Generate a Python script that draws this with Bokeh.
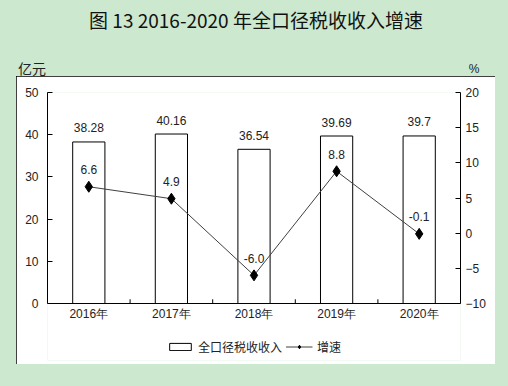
from bokeh.plotting import figure
from bokeh.layouts import column, row
from bokeh.models import (Range1d, LinearAxis, FixedTicker, Div, Legend, LegendItem, ColumnDataSource)
from bokeh.embed import file_html
from bokeh.resources import INLINE

years = ["2016年", "2017年", "2018年", "2019年", "2020年"]
revenue = [38.28, 40.16, 36.54, 39.69, 39.7]
revenue_labels = ["38.28", "40.16", "36.54", "39.69", "39.7"]
growth = [6.6, 4.9, -6.0, 8.8, -0.1]
growth_labels = ["6.6", "4.9", "-6.0", "8.8", "-0.1"]
left_ticks = [0, 10, 20, 30, 40, 50]
right_ticks = [-10, -5, 0, 5, 10, 15, 20]
title_text = "图 13 2016-2020 年全口径税收收入增速"
left_unit = "亿元"
right_unit = "%"

GREEN = "#cce8cf"
FONT = "Liberation Sans"
CJK = "Noto Sans CJK SC"
TXT = "#222222"

# space below zero inside the frame (for year labels and legend): 57px of 211px
below = 57 / 211
L0, L1 = 0, 50
R0, R1 = -10, 20

xs = [i + 0.5 for i in range(len(years))]
src = ColumnDataSource(dict(x=xs, rev=revenue, g=growth, rl=revenue_labels, gl=growth_labels))

p = figure(width=479, height=288, output_backend="svg", toolbar_location=None,
           x_range=Range1d(0, len(years)),
           y_range=Range1d(L0 - below * (L1 - L0), L1),
           min_border_left=31, min_border_right=35, min_border_top=16, min_border_bottom=4,
           styles={"outline": "1px solid black", "outline-offset": "-1px"})
p.extra_y_ranges = {"pct": Range1d(R0 - below * (R1 - R0), R1)}
p.background_fill_color = "white"
p.border_fill_color = "white"
p.outline_line_color = None
p.xgrid.visible = False
p.ygrid.visible = False

bars = p.vbar(x="x", top="rev", width=0.39, source=src, fill_color="white", line_color="black", line_width=1)
line = p.line(x="x", y="g", source=src, y_range_name="pct", line_color="#404040", line_width=1)
pts = p.scatter(x="x", y="g", source=src, y_range_name="pct", marker="diamond", size=11,
                fill_color="black", line_color="black")

p.text(x="x", y="rev", text="rl", source=src, text_align="center", text_baseline="middle",
       y_offset=-14, text_font_size="12px", text_color=TXT, text_font={"value": FONT})
p.text(x="x", y="g", text="gl", source=src, y_range_name="pct", text_align="center",
       text_baseline="middle", y_offset=-17, text_font_size="12px", text_color=TXT,
       text_font={"value": FONT})

# category boundary ticks on the x axis
bx = list(range(1, len(years)))
p.segment(x0=bx, x1=bx, y0=[0] * len(bx), y1=[1.0] * len(bx), line_color="black", line_width=1)

xa = p.xaxis[0]
xa.fixed_location = 0
xa.ticker = FixedTicker(ticks=xs)
xa.major_label_overrides = {x: y for x, y in zip(xs, years)}
xa.major_tick_line_color = None
xa.major_tick_in = 0
xa.major_tick_out = 0
xa.minor_tick_line_color = None
xa.axis_line_color = "black"
xa.major_label_text_font = FONT
xa.major_label_text_font_size = "12px"
xa.major_label_text_color = TXT
xa.major_label_standoff = 3

ya = p.yaxis[0]
ya.ticker = FixedTicker(ticks=left_ticks)
ya.bounds = (L0, L1)
ya.major_tick_in = 5
ya.major_tick_out = 0
ya.minor_tick_line_color = None
ya.axis_line_color = "black"
ya.major_label_text_font = FONT
ya.major_label_text_font_size = "12px"
ya.major_label_text_color = TXT
ya.major_label_standoff = 9

ra = LinearAxis(y_range_name="pct", ticker=FixedTicker(ticks=right_ticks), bounds=(R0, R1))
ra.major_tick_in = 5
ra.major_tick_out = 0
ra.minor_tick_line_color = None
ra.axis_line_color = "black"
ra.major_label_text_font = FONT
ra.major_label_text_font_size = "12px"
ra.major_label_text_color = TXT
ra.major_label_standoff = 5
p.add_layout(ra, "right")

legend = Legend(items=[LegendItem(label="全口径税收收入", renderers=[bars]),
                       LegendItem(label="增速", renderers=[line, pts])],
                orientation="horizontal", location="bottom_center", background_fill_alpha=0,
                border_line_color=None, label_text_font=CJK, label_text_font_size="12px",
                label_text_color=TXT, glyph_width=27, glyph_height=9, spacing=3,
                label_standoff=5, margin=5, padding=4)
p.add_layout(legend)

head_html = (
    f'<div style="position:relative;width:508px;height:76px;">'
    f'<div style="position:absolute;left:0;top:8px;width:512px;text-align:center;line-height:24px;'
    f'font-family:\'{CJK}\';font-size:19px;font-weight:400;color:#111;">{title_text}</div>'
    f'<div style="position:absolute;left:18px;top:59px;line-height:18px;font-family:\'{CJK}\';'
    f'font-size:14px;color:{TXT};">{left_unit}</div>'
    f'<div style="position:absolute;left:468px;top:60px;width:12px;text-align:center;line-height:18px;'
    f'font-family:\'{FONT}\';font-size:12px;color:{TXT};">{right_unit}</div>'
    f'</div>'
)
head = Div(text=head_html, width=508, height=76, styles={"background-color": GREEN}, margin=0)
left_pad = Div(text="", width=16, height=288, styles={"background-color": GREEN}, margin=0)
right_pad = Div(text="", width=13, height=288, styles={"background-color": GREEN}, margin=0)
foot = Div(text="", width=508, height=22, styles={"background-color": GREEN}, margin=0)

layout = column(head, row(left_pad, p, right_pad, spacing=0), foot, spacing=0,
                styles={"background-color": GREEN})

open("out.html", "w").write(file_html(layout, INLINE))
